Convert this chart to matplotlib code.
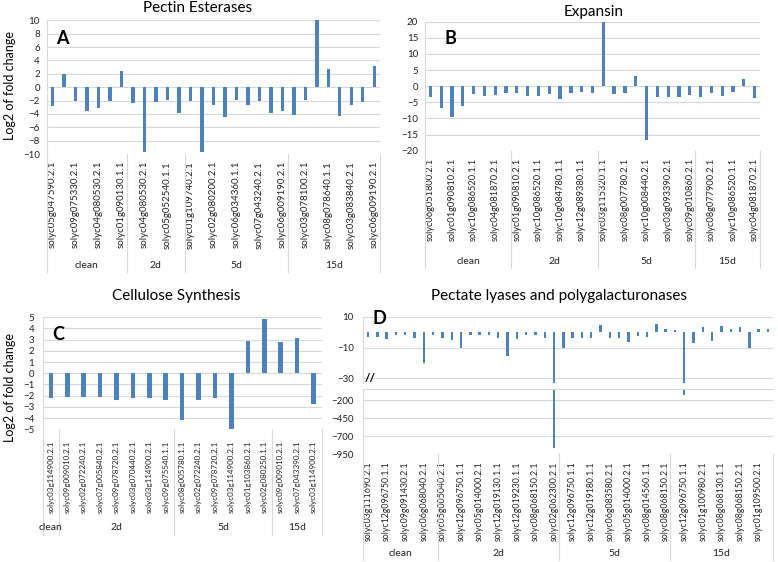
import matplotlib
matplotlib.use('Agg')
import matplotlib.pyplot as plt
import numpy as np
from matplotlib.transforms import blended_transform_factory
from matplotlib.lines import Line2D

plt.rcParams['font.family'] = ['Lato', 'DejaVu Sans']

# ---------------- data ----------------
groups = ["clean", "2d", "5d", "15d"]

pe_labels = ["solyc05g047590.2.1", "", "solyc09g075330.2.1", "", "solyc04g080530.2.1", "",
             "solyc01g090130.1.1", "", "solyc04g080530.2.1", "", "solyc05g052540.1.1", "",
             "solyc01g109740.2.1", "", "solyc02g080200.2.1", "", "solyc06g034360.1.1", "",
             "solyc07g043240.2.1", "", "solyc06g009190.2.1", "", "solyc03g078100.2.1", "",
             "solyc08g078640.1.1", "", "solyc03g083840.2.1", "", "solyc06g009190.2.1"]
pe_values = [-2.8, 1.9, -2.1, -3.5, -3.1, -2.1, 2.4, -2.3, -9.7, -2.2, -1.9, -3.8, -2.1,
             -9.7, -2.7, -4.4, -1.9, -2.6, -2.1, -3.8, -3.6, -4.1, -1.9, 10.1, 2.7, -4.3,
             -2.6, -2.2, 3.1]
pe_sizes = [7, 5, 9, 8]

ex_labels = ["solyc06g051800.2.1", "", "solyc01g090810.2.1", "", "solyc10g086520.1.1", "",
             "solyc04g081870.2.1", "", "solyc01g090810.2.1", "", "solyc10g086520.1.1", "",
             "solyc10g084780.1.1", "", "solyc12g089380.1.1", "", "solyc03g115320.1.1", "",
             "solyc08g007780.2.1", "", "solyc10g008440.2.1", "", "solyc03g093390.2.1", "",
             "solyc09g010860.2.1", "", "solyc08g077900.2.1", "", "solyc10g086520.1.1", "",
             "solyc04g081870.2.1"]
ex_values = [-3.3, -6.7, -9.5, -6.0, -2.5, -2.9, -2.7, -2.2, -2.2, -2.9, -3.0, -2.5, -3.9,
             -2.2, -1.9, -2.2, 19.8, -2.5, -2.2, 3.3, -16.7, -3.5, -3.2, -3.2, -2.7, -3.4,
             -2.2, -2.9, -1.9, 2.1, -3.7]
ex_sizes = [8, 8, 9, 6]

cs_labels = ["solyc03g114900.2.1", "solyc09g009010.2.1", "solyc02g072240.2.1",
             "solyc07g005840.2.1", "solyc09g078720.2.1", "solyc03g070440.2.1",
             "solyc03g114900.2.1", "solyc09g075540.1.1", "solyc08g005780.1.1",
             "solyc02g072240.2.1", "solyc09g078720.2.1", "solyc03g114900.2.1",
             "solyc01g103860.2.1", "solyc02g080250.1.1", "solyc09g009010.2.1",
             "solyc07g043390.2.1", "solyc03g114900.2.1"]
cs_values = [-2.25, -2.1, -2.15, -2.1, -2.4, -2.2, -2.2, -2.35, -4.2, -2.4, -2.2, -4.95,
             2.9, 4.85, 2.8, 3.15, -2.7]
cs_sizes = [1, 7, 6, 3]

pl_labels = ["solyc03g111690.2.1", "", "solyc12g096750.1.1", "", "solyc09g091430.2.1", "",
             "solyc06g068040.2.1", "", "solyc05g005040.2.1", "", "solyc12g096750.1.1", "",
             "solyc05g014000.2.1", "", "solyc12g019130.1.1", "", "solyc12g019230.1.1", "",
             "solyc08g068150.2.1", "", "solyc02g062300.2.1", "", "solyc12g096750.1.1", "",
             "solyc12g019180.1.1", "", "solyc06g083580.2.1", "", "solyc05g014000.2.1", "",
             "solyc08g014560.1.1", "", "solyc08g068150.2.1", "", "solyc12g096750.1.1", "",
             "solyc01g100980.2.1", "", "solyc08g068130.1.1", "", "solyc08g068150.2.1", "",
             "solyc01g109500.2.1", ""]
pl_values = [-3.0, -3.0, -4.5, -1.5, -1.5, -3.9, -19.7, -1.5, -3.9, -5.0, -10.2, -1.5,
             -1.5, -1.5, -3.9, -15.2, -4.5, -1.5, -1.5, -3.5, -860, -10.4, -3.9, -3.9,
             -3.5, 4.7, -3.5, -3.5, -6.3, -2.4, -2.8, 5.4, 2.0, 1.5, -130, -6.7, 3.7,
             -5.4, 4.1, 2.4, 3.2, -10.0, 2.0, 2.0]
pl_sizes = [8, 13, 12, 11]

# ---------------- figure ----------------
W, H = 778, 562
fig = plt.figure(figsize=(W / 100, H / 100), dpi=100)
BAR = '#4F81BD'
GRID = '#D9D9D9'
TXT = '#222222'


def add_ax(x0, x1, yt, yb):
    return fig.add_axes([x0 / W, 1 - yb / H, (x1 - x0) / W, (yb - yt) / H])


def style(ax, yticks, ylim, ypad):
    ax.set_ylim(*ylim)
    ax.set_yticks(yticks)
    ax.yaxis.grid(True, color=GRID, lw=0.8)
    ax.set_axisbelow(True)
    for s in ['top', 'right', 'bottom']:
        ax.spines[s].set_visible(False)
    ax.spines['left'].set_color(GRID)
    ax.tick_params(axis='y', length=0, labelsize=7, pad=ypad, labelcolor=TXT)
    ax.tick_params(axis='x', length=0)


def cat_axis(ax, labels, sizes, ax_bottom, xpad, fs, group_y, sep_bottom):
    n = len(labels)
    ax.set_xlim(-0.5, n - 0.5)
    ax.set_xticks(range(n))
    ax.set_xticklabels(labels, rotation=90, fontsize=fs, color=TXT)
    ax.tick_params(axis='x', length=0, pad=xpad)
    trans = blended_transform_factory(ax.transData, fig.transFigure)
    bounds = np.concatenate([[0], np.cumsum(sizes)]) - 0.5
    for b in bounds:
        fig.add_artist(Line2D([b, b], [1 - ax_bottom / H, 1 - sep_bottom / H],
                              transform=trans, color=GRID, lw=0.8))
    for i, g in enumerate(groups):
        c = (bounds[i] + bounds[i + 1]) / 2
        fig.text(c, 1 - group_y / H, g, transform=trans, ha='center', va='center',
                 fontsize=7.5, color=TXT)


# ---- A ----
axA = add_ax(46.7, 380, 20.3, 154)
axA.bar(range(len(pe_values)), pe_values, width=0.3, color=BAR, clip_on=False)
style(axA, range(-10, 11, 2), (-10, 10), 5)
cat_axis(axA, pe_labels, pe_sizes, 154, 5, 7, 265, 272)
fig.text(198 / W, 1 - 8 / H, "Pectin Esterases", ha='center', va='center', fontsize=11)
fig.text(62 / W, 1 - 39 / H, "A", ha='center', va='center', fontsize=13, fontweight='bold')
fig.text(10 / W, 1 - 85 / H, "Log2 of fold change", rotation=90, ha='center', va='center',
         fontsize=9)

# ---- B ----
axB = add_ax(425, 760, 21.7, 150.7)
axB.bar(range(len(ex_values)), ex_values, width=0.3, color=BAR)
style(axB, range(-20, 21, 5), (-20, 20), 5)
cat_axis(axB, ex_labels, ex_sizes, 150.7, 5.5, 6.7, 262, 268)
fig.text(594 / W, 1 - 12 / H, "Expansin", ha='center', va='center', fontsize=11)
fig.text(450 / W, 1 - 38 / H, "B", ha='center', va='center', fontsize=13, fontweight='bold')

# ---- C ----
axC = add_ax(42.7, 321.7, 317.3, 429.3)
axC.bar(range(len(cs_values)), cs_values, width=0.28, color=BAR)
style(axC, range(-5, 6, 1), (-5, 5), 6)
cat_axis(axC, cs_labels, cs_sizes, 429.3, 8, 5.8, 528, 535)
fig.text(176 / W, 1 - 296 / H, "Cellulose Synthesis", ha='center', va='center', fontsize=11)
fig.text(58 / W, 1 - 334 / H, "C", ha='center', va='center', fontsize=13, fontweight='bold')
fig.text(10 / W, 1 - 388 / H, "Log2 of fold change", rotation=90, ha='center', va='center',
         fontsize=9)

# ---- D (broken axis) ----
axD1 = add_ax(363.4, 772.6, 317, 383)
axD2 = add_ax(363.4, 772.6, 389.3, 454)
xs = range(len(pl_values))
axD1.bar(xs, pl_values, width=0.25, color=BAR)
axD2.bar(xs, pl_values, width=0.25, color=BAR)
style(axD1, [10, -10, -30], (-33, 10), 7)
style(axD2, [-200, -450, -700, -950], (-950, -50), 7)
axD2.spines['top'].set_visible(True)
axD2.spines['top'].set_color(GRID)
axD1.set_xlim(-0.5, len(pl_values) - 0.5)
axD1.set_xticks([])
cat_axis(axD2, pl_labels, pl_sizes, 454, 5.5, 6.3, 553, 560)
fig.text(559 / W, 1 - 296 / H, "Pectate lyases and polygalacturonases", ha='center',
         va='center', fontsize=11)
fig.text(379 / W, 1 - 318 / H, "D", ha='center', va='center', fontsize=13, fontweight='bold')
fig.text(370 / W, 1 - 378 / H, "//", ha='center', va='center', fontsize=8.5, fontweight='bold')

fig.savefig('out.png', dpi=100)
